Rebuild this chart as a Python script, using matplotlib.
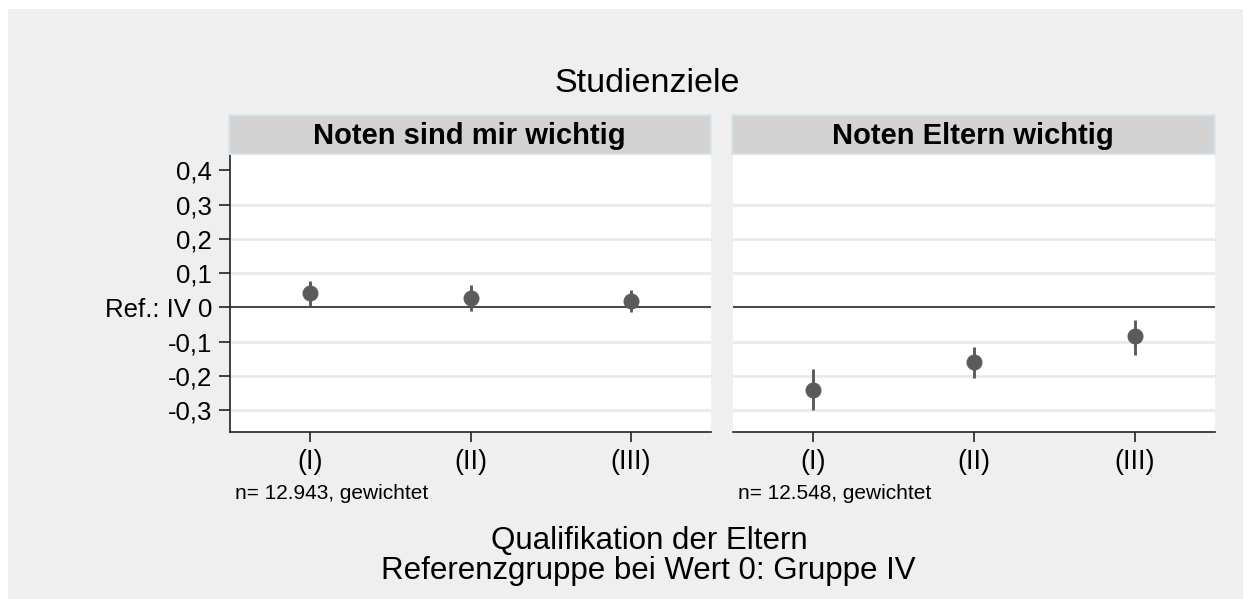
import matplotlib
matplotlib.use("Agg")
import matplotlib.pyplot as plt
from matplotlib.patches import Rectangle

plt.rcParams['font.family'] = ['Liberation Sans', 'DejaVu Sans']

categories = ["(I)", "(II)", "(III)"]
panels = ["Noten sind mir wichtig", "Noten Eltern wichtig"]
n_labels = ["n= 12.943, gewichtet", "n= 12.548, gewichtet"]
est_left = [0.041, 0.027, 0.018]
lo_left = [0.004, -0.011, -0.014]
hi_left = [0.078, 0.064, 0.052]
est_right = [-0.240, -0.159, -0.085]
lo_right = [-0.301, -0.205, -0.138]
hi_right = [-0.180, -0.115, -0.038]
ytick_vals = [-0.3, -0.2, -0.1, 0.0, 0.1, 0.2, 0.3, 0.4]
ytick_labels = ["-0,3", "-0,2", "-0,1", "Ref.: IV 0", "0,1", "0,2", "0,3", "0,4"]
grid_vals = [-0.3, -0.2, -0.1, 0.1, 0.2, 0.3]

W, H = 1252, 599
fig = plt.figure(figsize=(W / 100, H / 100), dpi=100, facecolor="white")
bg = Rectangle((8 / W, 0), (1243 - 8) / W, (H - 9) / H,
               transform=fig.transFigure, facecolor="#efefef",
               edgecolor="none", zorder=-10)
fig.patches.append(bg)

def fx(px):
    return px / W

def fy(py):
    return 1 - py / H

panel_x = [(230, 711), (733, 1215)]
ax_top, ax_bot = 155, 432
data = [(est_left, lo_left, hi_left), (est_right, lo_right, hi_right)]
mcol = "#5b5b5b"

for i, ((x0, x1), (est, lo, hi)) in enumerate(zip(panel_x, data)):
    ax = fig.add_axes([fx(x0), fy(ax_bot), fx(x1 - x0), fy(ax_top) - fy(ax_bot)])
    ax.set_facecolor("white")
    xs = list(range(1, len(categories) + 1))
    ax.set_xlim(0.5, 3.5)
    ax.set_ylim(-0.364, 0.445)
    for g in grid_vals:
        ax.axhline(g, color="#eaeaea", lw=2, zorder=1)
    ax.axhline(0, color="#4a4a4a", lw=1.5, zorder=2)
    yerr = [[e - l for e, l in zip(est, lo)], [h - e for e, h in zip(est, hi)]]
    ax.errorbar(xs, est, yerr=yerr, fmt="o", color=mcol, ms=10.5, elinewidth=2.1,
                capsize=0, zorder=3)
    ax.set_xticks(xs)
    ax.set_xticklabels(categories, fontsize=19.5)
    ax.tick_params(axis="x", length=7, width=1.2, color="#222222", pad=5)
    for s in ["top", "right"]:
        ax.spines[s].set_visible(False)
    ax.spines["bottom"].set_linewidth(1.2)
    ax.spines["bottom"].set_color("#222222")
    ax.set_yticks(ytick_vals)
    if i == 0:
        ax.set_yticklabels(ytick_labels, fontsize=18.5)
        ax.tick_params(axis="y", length=8, width=1.2, color="#222222", pad=5)
        ax.spines["left"].set_linewidth(1.2)
        ax.spines["left"].set_color("#222222")
    else:
        ax.set_yticklabels([])
        ax.tick_params(axis="y", length=0)
        ax.spines["left"].set_visible(False)
    # strip
    sax = fig.add_axes([fx(x0 - 1), fy(154), fx(x1 - x0 + 1), fy(115) - fy(154)])
    sax.set_facecolor("#d3d3d3")
    sax.set_xticks([])
    sax.set_yticks([])
    for s in sax.spines.values():
        s.set_color("#d6e6ee")
        s.set_linewidth(1.2)
    fig.text(fx((x0 + x1) / 2 - 1), fy(144), panels[i], ha="center", va="baseline",
             fontsize=21, fontweight="bold")
    fig.text(fx(x0 + 5), fy(499), n_labels[i], ha="left", va="baseline", fontsize=15)

fig.text(fx(647), fy(92), "Studienziele", ha="center", va="baseline", fontsize=24.5)
fig.text(fx(649), fy(549), "Qualifikation der Eltern", ha="center", va="baseline",
         fontsize=22.5)
fig.text(fx(648), fy(579), "Referenzgruppe bei Wert 0: Gruppe IV", ha="center",
         va="baseline", fontsize=22.5)

fig.savefig("out.png", dpi=100, facecolor=fig.get_facecolor())
